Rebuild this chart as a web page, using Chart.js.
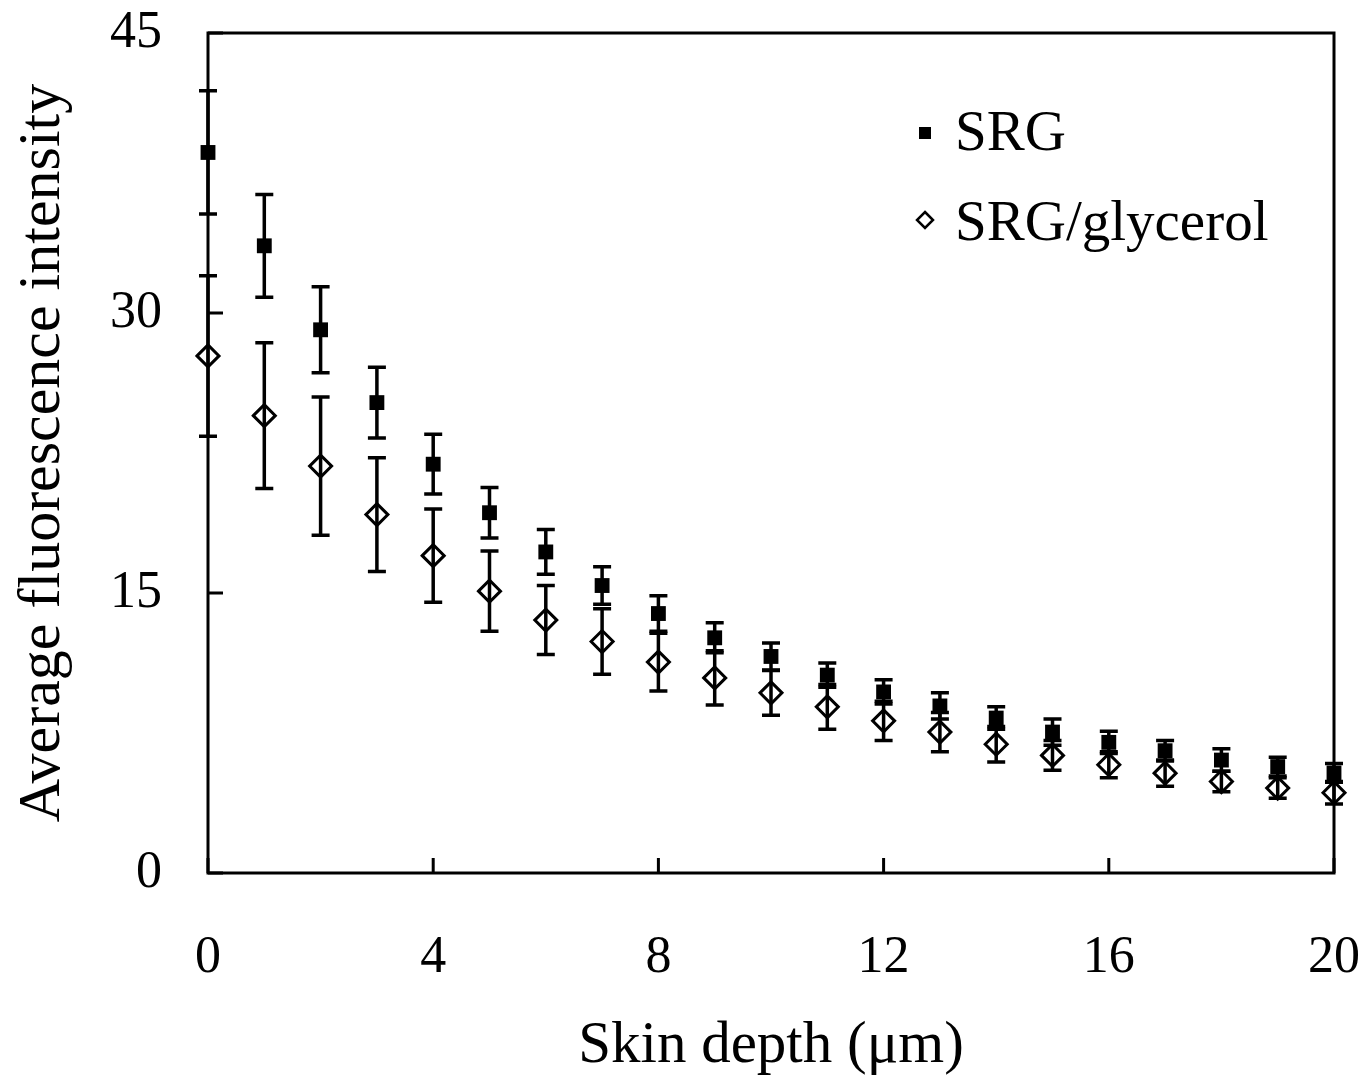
<!DOCTYPE html>
<html>
<head>
<meta charset="utf-8">
<script src="https://cdn.jsdelivr.net/npm/chart.js@4.4.1/dist/chart.umd.min.js"></script>
<style>
  html, body { margin: 0; padding: 0; background: #fff; }
  #wrap { width: 1363px; height: 1075px; }
</style>
</head>
<body>
<div id="wrap"><canvas id="chart" width="1363" height="1075"></canvas></div>
<script>
// ── 데이터 ──
const depth = [0, 1, 2, 3, 4, 5, 6, 7, 8, 9, 10, 11, 12, 13, 14, 15, 16, 17, 18, 19, 20];
const srg = [38.6, 33.6, 29.1, 25.2, 21.9, 19.3, 17.2, 15.4, 13.9, 12.6, 11.6, 10.6, 9.7, 8.95, 8.3, 7.55, 7.0, 6.55, 6.05, 5.7, 5.36];
const srgErr = [3.3, 2.75, 2.3, 1.9, 1.6, 1.35, 1.2, 1.0, 0.95, 0.8, 0.72, 0.65, 0.65, 0.7, 0.6, 0.7, 0.6, 0.55, 0.6, 0.5, 0.5];
const glycerol = [27.7, 24.5, 21.8, 19.2, 17.0, 15.1, 13.55, 12.4, 11.3, 10.45, 9.65, 8.9, 8.15, 7.55, 6.9, 6.3, 5.8, 5.35, 4.9, 4.55, 4.3];
const glycerolErr = [4.3, 3.9, 3.7, 3.05, 2.5, 2.15, 1.85, 1.75, 1.55, 1.45, 1.2, 1.2, 1.05, 1.05, 0.95, 0.8, 0.7, 0.7, 0.55, 0.55, 0.6];
const xTicks = [0, 4, 8, 12, 16, 20];
const yTicks = [0, 15, 30, 45];

const FONT = "'Liberation Serif', 'Times New Roman', serif";

function toPoints(ys, errs) {
  return depth.map((x, i) => ({ x, y: ys[i], err: errs[i] }));
}

// ── 오차 막대 ──
const errorBars = {
  id: 'errorBars',
  beforeDatasetsDraw(chart) {
    const { ctx, scales: { x, y } } = chart;
    ctx.save();
    ctx.strokeStyle = '#000';
    ctx.lineWidth = 3.5;
    chart.data.datasets.forEach(ds => {
      ds.data.forEach(p => {
        const px = x.getPixelForValue(p.x);
        const top = y.getPixelForValue(p.y + p.err);
        const bot = y.getPixelForValue(p.y - p.err);
        ctx.beginPath();
        ctx.moveTo(px, top); ctx.lineTo(px, bot);
        ctx.moveTo(px - 9, top); ctx.lineTo(px + 9, top);
        ctx.moveTo(px - 9, bot); ctx.lineTo(px + 9, bot);
        ctx.stroke();
      });
    });
    ctx.restore();
  }
};

// ── 테두리 + 안쪽 눈금 + 범례 ──
const frame = {
  id: 'frame',
  afterDraw(chart) {
    const { ctx, chartArea: a, scales: { x, y } } = chart;
    ctx.save();
    ctx.strokeStyle = '#000';
    ctx.lineWidth = 3;
    ctx.strokeRect(a.left, a.top, a.right - a.left, a.bottom - a.top);
    ctx.beginPath();
    xTicks.forEach(v => {
      const px = x.getPixelForValue(v);
      ctx.moveTo(px, a.bottom); ctx.lineTo(px, a.bottom - 15);
    });
    yTicks.forEach(v => {
      const py = y.getPixelForValue(v);
      ctx.moveTo(a.left, py); ctx.lineTo(a.left + 15, py);
    });
    ctx.stroke();

    // legend
    ctx.font = `57px ${FONT}`;
    ctx.fillStyle = '#000';
    ctx.textBaseline = 'alphabetic';
    ctx.fillText(chart.data.datasets[0].label, 955, 150);
    ctx.fillText(chart.data.datasets[1].label, 955, 240);
    ctx.fillRect(919, 127, 12, 12);
    ctx.lineWidth = 2.5;
    ctx.beginPath();
    ctx.moveTo(925, 212); ctx.lineTo(933, 220); ctx.lineTo(925, 228); ctx.lineTo(917, 220);
    ctx.closePath();
    ctx.stroke();
    ctx.restore();
  }
};

new Chart(document.getElementById('chart'), {
  type: 'scatter',
  data: {
    datasets: [
      {
        label: 'SRG', data: toPoints(srg, srgErr),
        pointStyle: 'rect', pointRadius: 10.5, pointHoverRadius: 10.5,
        backgroundColor: '#000', borderColor: '#000', borderWidth: 0, clip: false
      },
      {
        label: 'SRG/glycerol', data: toPoints(glycerol, glycerolErr),
        pointStyle: 'rectRot', pointRadius: 11, pointHoverRadius: 11,
        backgroundColor: 'rgba(0,0,0,0)', borderColor: '#000', borderWidth: 3, clip: false
      }
    ]
  },
  options: {
    responsive: false, animation: false,
    layout: { padding: { top: 33, right: 29, left: 0, bottom: 0 } },
    plugins: { legend: { display: false }, tooltip: { enabled: false } },
    scales: {
      x: {
        type: 'linear', min: 0, max: 20,
        afterFit: s => { s.height = 202; s.paddingLeft = 0; s.paddingRight = 0; },
        afterBuildTicks: s => { s.ticks = xTicks.map(v => ({ value: v })); },
        grid: { display: false, drawTicks: false },
        border: { display: false },
        ticks: { color: '#000', padding: 54, font: { family: FONT, size: 52 } },
        title: {
          display: true, text: 'Skin depth (μm)', color: '#000',
          font: { family: FONT, size: 59 }, padding: { top: 0, bottom: -7 }
        }
      },
      y: {
        type: 'linear', min: 0, max: 45,
        afterFit: s => { s.width = 208; s.paddingTop = 0; s.paddingBottom = 0; },
        afterBuildTicks: s => { s.ticks = yTicks.map(v => ({ value: v })); },
        grid: { display: false, drawTicks: false },
        border: { display: false },
        ticks: { color: '#000', padding: 46, font: { family: FONT, size: 52 } },
        title: {
          display: true, text: 'Average fluorescence intensity', color: '#000',
          font: { family: FONT, size: 60 }, padding: { top: 7, bottom: 0 }
        }
      }
    }
  },
  plugins: [errorBars, frame]
});
</script>
</body>
</html>
